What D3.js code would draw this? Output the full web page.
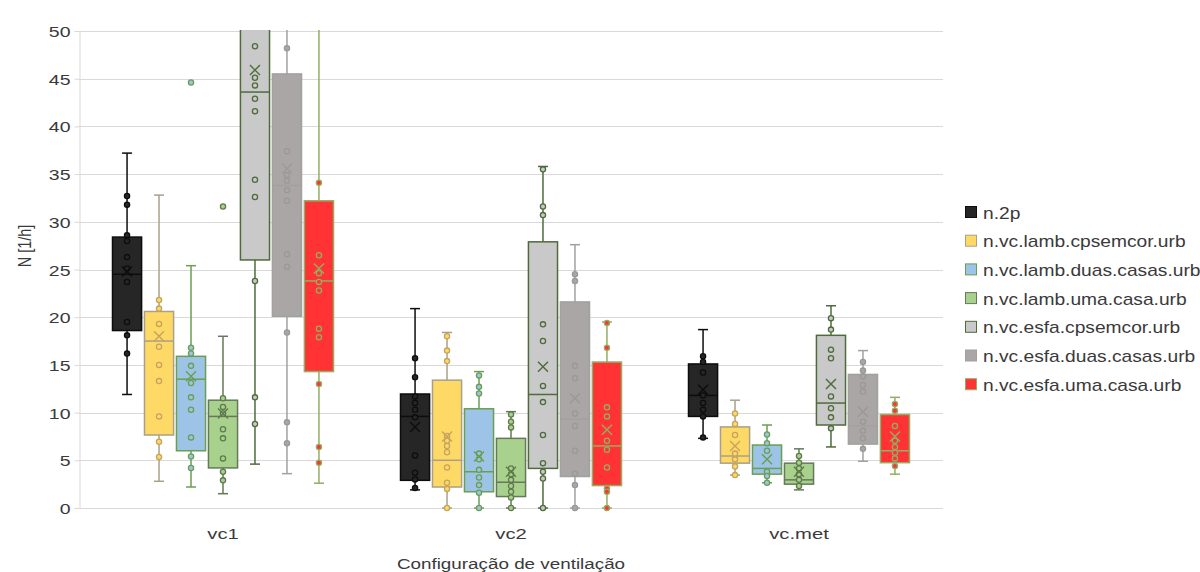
<!DOCTYPE html>
<html>
<head>
<meta charset="utf-8">
<script src="https://cdn.jsdelivr.net/npm/d3@7"></script>
<style>
  html, body { margin: 0; padding: 0; background: #fff; }
  svg { display: block; }
  text { font-family: "Liberation Sans", Arial, sans-serif; fill: #3a3a3a; }
</style>
</head>
<body>
<svg id="chart" width="1200" height="572"></svg>
<script>
// ---------------- DATA ----------------
const categories = ["vc1", "vc2", "vc.met"];
const seriesNames = [
  "n.2p",
  "n.vc.lamb.cpsemcor.urb",
  "n.vc.lamb.duas.casas.urb",
  "n.vc.lamb.uma.casa.urb",
  "n.vc.esfa.cpsemcor.urb",
  "n.vc.esfa.duas.casas.urb",
  "n.vc.esfa.uma.casa.urb"
];
const yTicks = [0, 5, 10, 15, 20, 25, 30, 35, 40, 45, 50];

// statistics indexed [category][series]
const whiskerLow = [
  [11.9, 2.8, 2.2, 1.5, 4.6, 3.6, 2.6],
  [1.9, 0, 0, 0, 0, 0, 0],
  [7.3, 3.45, 2.65, 1.9, 6.4, 4.9, 3.55]
];
const quartile1 = [
  [18.6, 7.65, 6.0, 4.2, 26.0, 20.1, 14.3],
  [2.9, 2.2, 1.7, 1.2, 4.15, 3.3, 2.35],
  [9.6, 4.7, 3.55, 2.5, 8.7, 6.7, 4.75]
];
const medians = [
  [24.5, 17.5, 13.5, 9.6, 43.6, 33.8, 23.8],
  [9.6, 5.0, 3.8, 2.7, 11.9, 9.3, 6.5],
  [11.8, 5.45, 4.15, 2.95, 11.0, 8.6, 6.0]
];
const quartile3 = [
  [28.4, 20.6, 15.9, 11.3, 55.0, 45.5, 32.2],
  [11.95, 13.4, 10.4, 7.3, 27.9, 21.6, 15.3],
  [15.1, 8.5, 6.6, 4.7, 18.1, 14.0, 9.8]
];
const whiskerHigh = [
  [37.2, 32.8, 25.4, 18.0, 62.0, 58.0, 56.0],
  [20.9, 18.4, 14.3, 10.1, 35.8, 27.6, 19.5],
  [18.7, 11.3, 8.7, 6.2, 21.2, 16.5, 11.6]
];
const means = [
  [24.8, 18.0, 13.8, 9.9, 45.9, 35.6, 25.1],
  [8.5, 7.5, 5.4, 3.8, 14.8, 11.5, 8.2],
  [12.4, 6.5, 5.1, 3.8, 13.0, 10.1, 7.5]
];
const points = [
  [
    [32.7, 31.8, 28.6, 28.0, 26.3, 25.1, 23.7, 19.5, 18.1, 16.2],
    [21.8, 20.9, 19.3, 16.9, 15.0, 13.3, 9.6, 6.95, 5.35],
    [44.6, 16.8, 16.2, 14.9, 13.1, 11.6, 10.3, 7.4, 5.4, 4.2],
    [31.6, 11.5, 10.6, 9.9, 8.25, 7.3, 5.2, 3.8, 2.9],
    [48.4, 45.1, 44.3, 42.9, 41.6, 34.4, 32.6, 23.8, 11.6, 8.8],
    [48.2, 37.4, 34.9, 34.3, 33.3, 32.2, 26.6, 25.3, 18.4, 9.0, 6.8],
    [34.1, 26.5, 24.6, 23.7, 22.8, 18.8, 17.9, 13.0, 6.4, 4.75]
  ],
  [
    [15.7, 13.7, 11.7, 11.0, 10.3, 9.5, 5.5, 3.7, 3.0, 2.1],
    [18.0, 16.5, 15.4, 7.55, 7.05, 6.5, 5.85, 4.25, 2.65, 2.0, 0],
    [13.9, 12.7, 12.0, 5.7, 5.1, 4.0, 3.2, 2.4, 1.6, 0],
    [9.8, 9.05, 8.45, 4.15, 3.55, 2.95, 2.3, 1.7, 1.1, 0],
    [35.5, 31.6, 30.7, 19.25, 17.5, 12.8, 11.1, 7.65, 4.7, 3.8, 3.1, 0],
    [24.5, 23.8, 14.9, 13.6, 9.9, 8.6, 6.0, 3.6, 2.4, 0],
    [19.4, 16.8, 10.55, 9.6, 7.05, 6.1, 4.25, 2.05, 1.7, 0]
  ],
  [
    [15.9, 15.3, 14.2, 11.8, 11.0, 10.3, 9.6, 7.4],
    [9.9, 8.8, 7.65, 5.7, 5.1, 4.35, 3.45],
    [7.7, 6.8, 6.0, 3.8, 3.35, 2.65],
    [5.45, 4.75, 4.15, 3.55, 2.95, 2.3],
    [19.9, 18.7, 16.6, 15.7, 11.7, 10.45, 9.5, 8.35],
    [15.3, 14.4, 13.8, 12.9, 12.2, 9.05, 8.1, 7.3, 6.2],
    [10.9, 10.2, 8.6, 7.05, 6.4, 5.8, 5.2, 4.4]
  ]
];

// ---------------- STYLE ----------------
const fills   = ["#262626", "#ffd966", "#9dc3e6", "#a9d18e", "#c9c9c9", "#aaa6a6", "#ff3333"];
const strokes = ["#0d0d0d", "#a8a08a", "#6a9f52", "#66785a", "#4e6b3b", "#a2a0a0", "#93ad64"];
const markerStrokes = ["#0d0d0d", "#c4a45e", "#6a9f52", "#5f7a4c", "#4e6b3b", "#9a9898", "#93ad64"];

const margin = { left: 79, right: 943, top: 31, bottom: 508 };

const svg = d3.select("#chart");

const x = d3.scaleBand().domain(categories).range([margin.left, margin.right]).padding(0);
const xs = d3.scaleBand().domain(seriesNames).range([-110.5, 110.5]).paddingInner(0.09).paddingOuter(0);
const y = d3.scaleLinear().domain([0, 50]).range([margin.bottom, margin.top]);

// gridlines
svg.append("g")
  .selectAll("line").data(yTicks).join("line")
  .attr("x1", margin.left).attr("x2", margin.right)
  .attr("y1", d => Math.round(y(d)) + 0.5).attr("y2", d => Math.round(y(d)) + 0.5)
  .attr("stroke", "#d9d9d9").attr("stroke-width", 1);

// y axis
const yAxis = d3.axisLeft(y).tickValues(yTicks).tickSize(5).tickPadding(8);
const gy = svg.append("g").attr("transform", `translate(${margin.left + 0.5},0)`).call(yAxis);
gy.select(".domain").attr("stroke", "#d9d9d9");
gy.selectAll(".tick line").attr("stroke", "#d9d9d9");
gy.selectAll(".tick text").each(function () {
  const t = d3.select(this);
  t.attr("x", null).attr("dy", null)
    .attr("transform", "translate(-9,5.5) scale(1.3,1)")
    .attr("text-anchor", "end")
    .style("font-size", "15px").style("fill", "#3a3a3a")
    .style("font-family", "'Liberation Sans', Arial, sans-serif");
});

// x axis labels
const xAxis = d3.axisBottom(x).tickSize(0).tickPadding(0);
const gx = svg.append("g").attr("transform", `translate(0,${margin.bottom})`).call(xAxis);
gx.select(".domain").remove();
gx.selectAll(".tick text").each(function () {
  d3.select(this).attr("y", null).attr("dy", null)
    .attr("transform", "translate(0,31) scale(1.35,1)")
    .attr("text-anchor", "middle")
    .style("font-size", "15px").style("fill", "#3a3a3a")
    .style("font-family", "'Liberation Sans', Arial, sans-serif");
});

// axis titles
svg.append("text")
  .attr("transform", `translate(${(margin.left + margin.right) / 2},569) scale(1.3,1)`)
  .attr("text-anchor", "middle").style("font-size", "14.5px")
  .text("Configuração de ventilação");
svg.append("text")
  .attr("transform", "translate(31,246) scale(1.25,1) rotate(-90)")
  .attr("text-anchor", "middle").style("font-size", "14.5px")
  .text("N [1/h]");

// clip
svg.append("clipPath").attr("id", "plotClip")
  .append("rect").attr("x", margin.left).attr("y", margin.top - 1)
  .attr("width", margin.right - margin.left).attr("height", margin.bottom - margin.top + 10);

const plot = svg.append("g").attr("clip-path", "url(#plotClip)");

const boxes = [];
categories.forEach((c, ci) => {
  seriesNames.forEach((s, si) => {
    boxes.push({ c, ci, s, si });
  });
});

const bw = xs.bandwidth();
const capW = 10;

const g = plot.selectAll("g.box").data(boxes).join("g").attr("class", "box")
  .attr("transform", d => `translate(${x(d.c) + x.bandwidth() / 2 + xs(d.s)},0)`);

// whiskers
g.append("line")
  .attr("x1", bw / 2).attr("x2", bw / 2)
  .attr("y1", d => y(whiskerLow[d.ci][d.si])).attr("y2", d => y(whiskerHigh[d.ci][d.si]))
  .attr("stroke", d => strokes[d.si]).attr("stroke-width", 1.5);
g.append("line")
  .attr("x1", bw / 2 - capW / 2).attr("x2", bw / 2 + capW / 2)
  .attr("y1", d => y(whiskerLow[d.ci][d.si])).attr("y2", d => y(whiskerLow[d.ci][d.si]))
  .attr("stroke", d => strokes[d.si]).attr("stroke-width", 1.5);
g.append("line")
  .attr("x1", bw / 2 - capW / 2).attr("x2", bw / 2 + capW / 2)
  .attr("y1", d => y(whiskerHigh[d.ci][d.si])).attr("y2", d => y(whiskerHigh[d.ci][d.si]))
  .attr("stroke", d => strokes[d.si]).attr("stroke-width", 1.5);

// box
g.append("rect")
  .attr("x", 0).attr("width", bw)
  .attr("y", d => y(quartile3[d.ci][d.si]))
  .attr("height", d => y(quartile1[d.ci][d.si]) - y(quartile3[d.ci][d.si]))
  .attr("fill", d => fills[d.si]).attr("stroke", d => strokes[d.si]).attr("stroke-width", 1.5);

// median
g.append("line")
  .attr("x1", 0).attr("x2", bw)
  .attr("y1", d => y(medians[d.ci][d.si])).attr("y2", d => y(medians[d.ci][d.si]))
  .attr("stroke", d => strokes[d.si]).attr("stroke-width", 1.5);

// points
g.selectAll("circle").data(d => points[d.ci][d.si].map(v => ({ v, si: d.si }))).join("circle")
  .attr("cx", bw / 2).attr("cy", d => y(d.v)).attr("r", 2.6)
  .attr("fill", d => fills[d.si]).attr("stroke", d => markerStrokes[d.si]).attr("stroke-width", 1.3);

// mean X
const mx = 5;
g.append("path")
  .attr("d", d => {
    const cy = y(means[d.ci][d.si]);
    const cx = bw / 2;
    return `M${cx - mx},${cy - mx}L${cx + mx},${cy + mx}M${cx - mx},${cy + mx}L${cx + mx},${cy - mx}`;
  })
  .attr("fill", "none").attr("stroke", d => markerStrokes[d.si]).attr("stroke-width", 1.4);

// legend
const legend = svg.append("g").attr("transform", "translate(965,206)");
const li = legend.selectAll("g").data(seriesNames).join("g")
  .attr("transform", (d, i) => `translate(0,${i * 28.7})`);
li.append("rect").attr("x", 0.5).attr("y", 0.5).attr("width", 11).attr("height", 11)
  .attr("fill", (d, i) => fills[i]).attr("stroke", (d, i) => strokes[i]).attr("stroke-width", 1);
li.append("text")
  .attr("transform", "translate(18,12.5) scale(1.2,1)")
  .style("font-size", "16px")
  .text(d => d);
</script>
</body>
</html>
